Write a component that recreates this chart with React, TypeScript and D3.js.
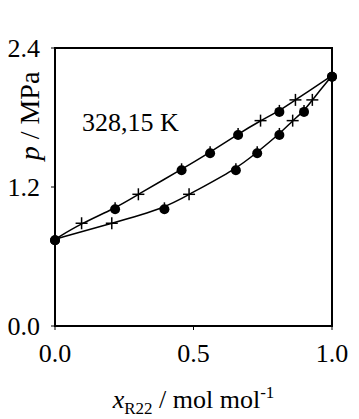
import React from "react";
import * as d3 from "d3";

const width = 359;
const height = 419;
const margin = { top: 48, right: 27, bottom: 93, left: 55 };
const fontFamily = "Liberation Serif, Times New Roman, serif";

// measured points (filled circles): liquid x, vapour y at the same pressure
const pCircle = [0.749, 1.016, 1.353, 1.5, 1.658, 1.857, 2.161];
const xCircle = [0, 0.217, 0.457, 0.56, 0.661, 0.81, 1.0];
const yCircle = [0, 0.395, 0.653, 0.73, 0.81, 0.899, 1.0];

// second data set (plus markers)
const pPlus = [0.887, 1.137, 1.773, 1.952];
const xPlus = [0.096, 0.301, 0.742, 0.868];
const yPlus = [0.205, 0.484, 0.858, 0.929];

const xTicks = [0, 0.5, 1.0];
const yTicks = [0, 1.2, 2.4];
const tempLabel = "328,15 K";

type Pt = { x: number; p: number };

const zip = (xs: number[], ps: number[]): Pt[] => xs.map((x, i) => ({ x, p: ps[i] }));

function App() {
  const xScale = d3
    .scaleLinear()
    .domain([0, 1])
    .range([margin.left, width - margin.right]);
  const yScale = d3
    .scaleLinear()
    .domain([0, 2.4])
    .range([height - margin.bottom, margin.top]);

  const bubblePts = zip(xCircle, pCircle).concat(zip(xPlus, pPlus)).sort((a, b) => a.x - b.x);
  const dewPts = zip(yCircle, pCircle).concat(zip(yPlus, pPlus)).sort((a, b) => a.x - b.x);

  // smooth model-like curves (basis keeps the end points fixed)
  const path = d3
    .line<Pt>()
    .x((d) => xScale(d.x))
    .y((d) => yScale(d.p))
    .curve(d3.curveBasis);

  const circles = zip(xCircle, pCircle).concat(zip(yCircle, pCircle));
  const pluses = zip(xPlus, pPlus).concat(zip(yPlus, pPlus));
  const plusArm = 6;
  const tick = 4;

  const x0 = margin.left;
  const x1 = width - margin.right;
  const y0 = height - margin.bottom;
  const y1 = margin.top;

  return (
    <div style={{ position: "fixed", left: 0, top: 0 }}>
      <svg width={width} height={height} style={{ display: "block", background: "#fff", fontFamily }}>
        <g fill="#000">
          {xTicks.map((t) => (
            <g key={`xt${t}`} transform={`translate(${xScale(t)},${y0})`}>
              <line y2={tick} stroke="#000" strokeWidth={1} />
              <text y={36} textAnchor="middle" style={{ fontSize: 26 }}>
                {t.toFixed(1)}
              </text>
            </g>
          ))}
          {yTicks.map((t) => (
            <g key={`yt${t}`} transform={`translate(${x0},${yScale(t)})`}>
              <line x2={-tick} stroke="#000" strokeWidth={1} />
              <text x={-15} y={9} textAnchor="end" style={{ fontSize: 26 }}>
                {t.toFixed(1)}
              </text>
            </g>
          ))}

          <path d={path(bubblePts) ?? ""} fill="none" stroke="#000" strokeWidth={1.5} />
          <path d={path(dewPts) ?? ""} fill="none" stroke="#000" strokeWidth={1.5} />

          {circles.map((d, i) => (
            <g key={`c${i}`} transform={`translate(${xScale(d.x)},${yScale(d.p)})`}>
              <line y1={-6} y2={0} stroke="#000" strokeWidth={1.5} />
              <circle cy={1} r={5} fill="#000" />
            </g>
          ))}
          {pluses.map((d, i) => (
            <g key={`p${i}`} transform={`translate(${xScale(d.x)},${yScale(d.p)})`} stroke="#000" strokeWidth={1.5}>
              <line x1={-plusArm} x2={plusArm} />
              <line y1={-plusArm} y2={plusArm} />
            </g>
          ))}

          <rect x={x0} y={y1} width={x1 - x0} height={y0 - y1} fill="none" stroke="#000" strokeWidth={2} />

          <text x={82} y={131} style={{ fontSize: 26 }}>
            {tempLabel}
          </text>

          <text x={(x0 + x1) / 2} y={408} textAnchor="middle" style={{ fontSize: 26 }}>
            <tspan fontStyle="italic">x</tspan>
            <tspan dy={6} style={{ fontSize: 17 }}>R22</tspan>
            <tspan dy={-6}> / mol mol</tspan>
            <tspan dy={-10} style={{ fontSize: 17 }}>-1</tspan>
          </text>
          <text transform="translate(39,116) rotate(-90)" textAnchor="middle" style={{ fontSize: 28 }}>
            <tspan fontStyle="italic">p</tspan>
            <tspan> / MPa</tspan>
          </text>
        </g>
      </svg>
    </div>
  );
}

export default App;
